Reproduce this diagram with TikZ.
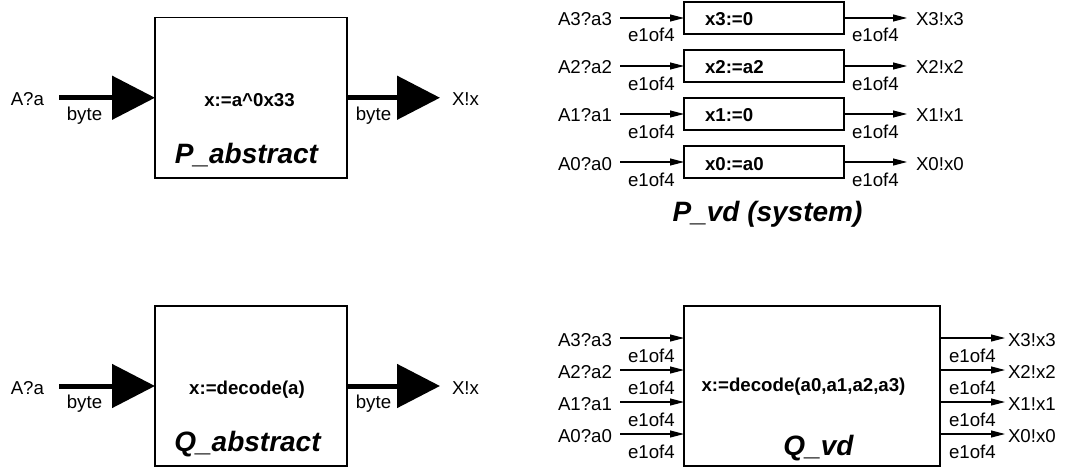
\documentclass[tikz,border=0pt]{standalone}
\usepackage{fontspec}
\setmainfont{Liberation Sans}
\usetikzlibrary{arrows.meta}
\begin{document}
\begin{tikzpicture}[x=0.75pt,y=-0.75pt,
  lab/.style={inner sep=0pt, outer sep=0pt, text height=12pt, text depth=0pt, font=\fontsize{14}{16}\selectfont},
  small/.style={inner sep=0pt, outer sep=0pt, font=\fontsize{14}{16}\selectfont},
  code/.style={inner sep=0pt, outer sep=0pt, font=\fontsize{14}{16}\selectfont\bfseries},
  title/.style={inner sep=0pt, outer sep=0pt, font=\fontsize{21}{24}\selectfont\bfseries\itshape},
  blk/.style={draw, line width=0.8pt, inner sep=0pt, outer sep=0pt},
  fat/.style={line width=3.75pt, -{Triangle[length=32.25pt,width=32.25pt]}},
  thinarr/.style={line width=0.8pt, -{Triangle[length=10.5pt,width=5.25pt]}},
]
\useasboundingbox (0,0) rectangle (1074,467);

% ---- P_abstract ----
\node[blk, minimum width=144pt, minimum height=120.4pt] (pabs) at (251,97.75) {};
\node[lab, anchor=east] (pain) at (44,97.75) {A?a};
\node[lab, anchor=west] (paout) at (452,97.75) {X!x};
\draw[fat] ([xshift=11.25pt]pain.east) -- (pabs.west);
\draw[fat] (pabs.east) -- ([xshift=-9pt]paout.west);
\node[small, anchor=base] (pabin) at (84.5,120) {byte};
\node[small, anchor=base] (pabout) at (373.5,120) {byte};
\node[code, anchor=base] (pacode) at (249.5,106) {x:=a\textasciicircum 0x33};
\node[title, anchor=base] (patitle) at (246.5,163) {P\_abstract};

% ---- Q_abstract ----
\node[blk, minimum width=144pt, minimum height=120pt] (qabs) at (251,386) {};
\node[lab, anchor=east] (qain) at (44,386) {A?a};
\node[lab, anchor=west] (qaout) at (452,386) {X!x};
\draw[fat] ([xshift=11.25pt]qain.east) -- (qabs.west);
\draw[fat] (qabs.east) -- ([xshift=-9pt]qaout.west);
\node[small, anchor=base] (qabin) at (84.5,408) {byte};
\node[small, anchor=base] (qabout) at (373.5,408) {byte};
\node[code, anchor=base] (qacode) at (247,394) {x:=decode(a)};
\node[title, anchor=base] (qatitle) at (247.5,451.25) {Q\_abstract};

% ---- P_vd: four one-of-four slices ----
\foreach \i/\yy/\txt in {3/18/{x3:=0},2/66/{x2:=a2},1/114/{x1:=0},0/162/{x0:=a0}} {
  \node[blk, minimum width=120pt, minimum height=24pt] (pv\i) at (764,\yy) {};
  \node[code, anchor=base west] (pvc\i) at (705,{\yy+8}) {\txt};
  \node[lab, anchor=east] (pva\i) at (612,\yy) {A\i?a\i};
  \node[lab, anchor=west] (pvx\i) at (916,\yy) {X\i!x\i};
  \draw[thinarr] ([xshift=6pt]pva\i.east) -- (pva\i.east -| pv\i.west);
  \draw[thinarr] (pv\i.east |- pvx\i.west) -- ([xshift=-6.75pt]pvx\i.west);
  \node[small, anchor=base west] (pvei\i) at (628,{\yy+24}) {e1of4};
  \node[small, anchor=base west] (pveo\i) at (852,{\yy+24}) {e1of4};
}
\node[title, anchor=base] (pvtitle) at (767.5,221) {P\_vd (system)};

% ---- Q_vd ----
\node[blk, minimum width=192pt, minimum height=120pt] (qvd) at (812,386) {};
\foreach \i/\yy in {3/338,2/370,1/402,0/434} {
  \node[lab, anchor=east] (qva\i) at (612,\yy) {A\i?a\i};
  \node[lab, anchor=west] (qvx\i) at (1008,\yy) {X\i!x\i};
  \draw[thinarr] ([xshift=6pt]qva\i.east) -- (qva\i.east -| qvd.west);
  \draw[thinarr] (qvd.east |- qvx\i.west) -- ([xshift=-2.25pt]qvx\i.west);
  \node[small, anchor=base west] (qvei\i) at (628,{\yy+24}) {e1of4};
  \node[small, anchor=base west] (qveo\i) at (949,{\yy+24}) {e1of4};
}
\node[code, anchor=base] (qvcode) at (803.5,391) {x:=decode(a0,a1,a2,a3)};
\node[title, anchor=base] (qvtitle) at (818.5,455) {Q\_vd};
\end{tikzpicture}
\end{document}
